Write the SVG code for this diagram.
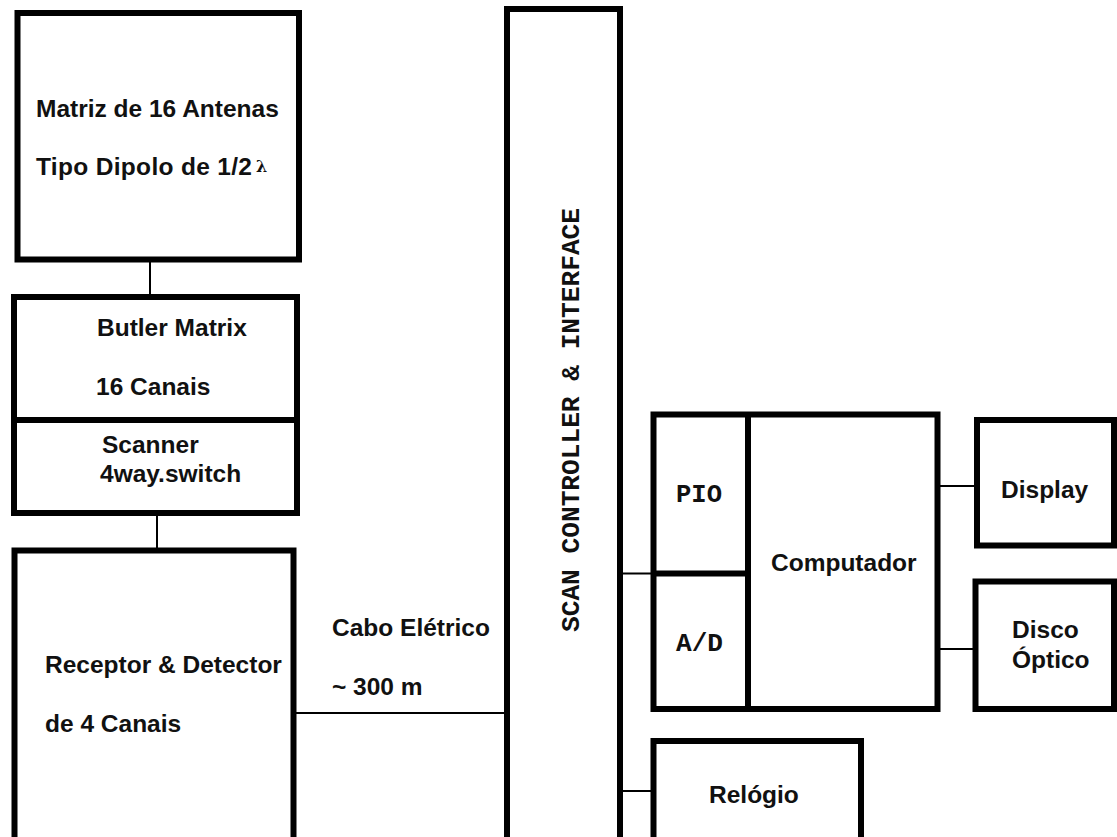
<svg xmlns="http://www.w3.org/2000/svg" width="1117" height="837" viewBox="0 0 1117 837">
<style>
.box{fill:#fff;stroke:#000;stroke-width:6}
.div{stroke:#000;stroke-width:6;fill:none}
.con{stroke:#000;stroke-width:2;fill:none}
.t{font-family:"Liberation Sans",Arial,sans-serif;font-weight:bold;font-size:24.5px;fill:#111}
.m{font-family:"Liberation Mono","DejaVu Sans Mono",monospace;font-weight:bold;font-size:26px;fill:#111}
</style>
<rect width="1117" height="837" fill="#fff"/>
<g id="connectors">
<line class="con" x1="150" y1="260" x2="150" y2="296" stroke-width="3"/>
<line class="con" x1="157" y1="514" x2="157" y2="549"/>
<line class="con" x1="295" y1="713" x2="506" y2="713"/>
<line class="con" x1="620" y1="573.5" x2="655" y2="573.5"/>
<line class="con" x1="620" y1="791" x2="655" y2="791"/>
<line class="con" x1="938" y1="486" x2="978" y2="486"/>
<line class="con" x1="938" y1="649" x2="977" y2="649"/>
</g>
<g id="antenas">
<rect class="box" x="17.5" y="13" width="281.5" height="246.5"/>
<text class="t" x="36" y="117">Matriz de 16 Antenas</text>
<text class="t" x="36" y="175" textLength="216" lengthAdjust="spacing">Tipo Dipolo de 1/2</text>
<text x="256" y="172" font-family="'DejaVu Serif',serif" font-weight="bold" font-size="16" fill="#111">λ</text>
</g>
<g id="butler">
<rect class="box" x="14" y="297" width="283" height="216"/>
<line class="div" x1="14" y1="420" x2="297" y2="420" stroke-width="7"/>
<text class="t" x="97" y="336">Butler Matrix</text>
<text class="t" x="96" y="395">16 Canais</text>
</g>
<g id="scanner">
<text class="t" x="102" y="453">Scanner</text>
<text class="t" x="100" y="482">4way.switch</text>
</g>
<g id="receptor">
<rect class="box" x="14.5" y="550.5" width="279" height="290" stroke-width="7"/>
<text class="t" x="45" y="673">Receptor &amp; Detector</text>
<text class="t" x="45" y="732">de 4 Canais</text>
</g>
<g id="cabo">
<text class="t" x="332" y="636">Cabo Elétrico</text>
<text class="t" x="332" y="695">~ 300 m</text>
</g>
<g id="scan">
<rect class="box" x="507" y="9" width="113" height="835" stroke-width="7"/>
<text class="m" transform="translate(579,420) rotate(-90)" text-anchor="middle" font-weight="normal" textLength="424" lengthAdjust="spacingAndGlyphs">SCAN CONTROLLER &amp; INTERFACE</text>
</g>
<g id="computador">
<rect class="box" x="653.5" y="414.5" width="284" height="294.5" stroke-width="5.5"/>
<line class="div" x1="748" y1="414.5" x2="748" y2="709" stroke-width="5"/>
<line class="div" x1="653.5" y1="573.5" x2="748" y2="573.5" stroke-width="5"/>
<text class="t" x="771" y="571">Computador</text>
</g>
<g id="pio">
<text class="m" x="676" y="502" textLength="46" lengthAdjust="spacingAndGlyphs">PIO</text>
</g>
<g id="ad">
<text class="m" x="676" y="651" textLength="47" lengthAdjust="spacingAndGlyphs">A/D</text>
</g>
<g id="display">
<rect class="box" x="977" y="420" width="137" height="125.5"/>
<text class="t" x="1001" y="498">Display</text>
</g>
<g id="disco">
<rect class="box" x="975.5" y="581.5" width="138.5" height="127.5"/>
<text class="t" x="1012" y="638">Disco</text>
<text class="t" x="1012" y="668">Óptico</text>
</g>
<g id="relogio">
<rect class="box" x="653.5" y="741" width="207.5" height="100"/>
<text class="t" x="709" y="803">Relógio</text>
</g>
</svg>
